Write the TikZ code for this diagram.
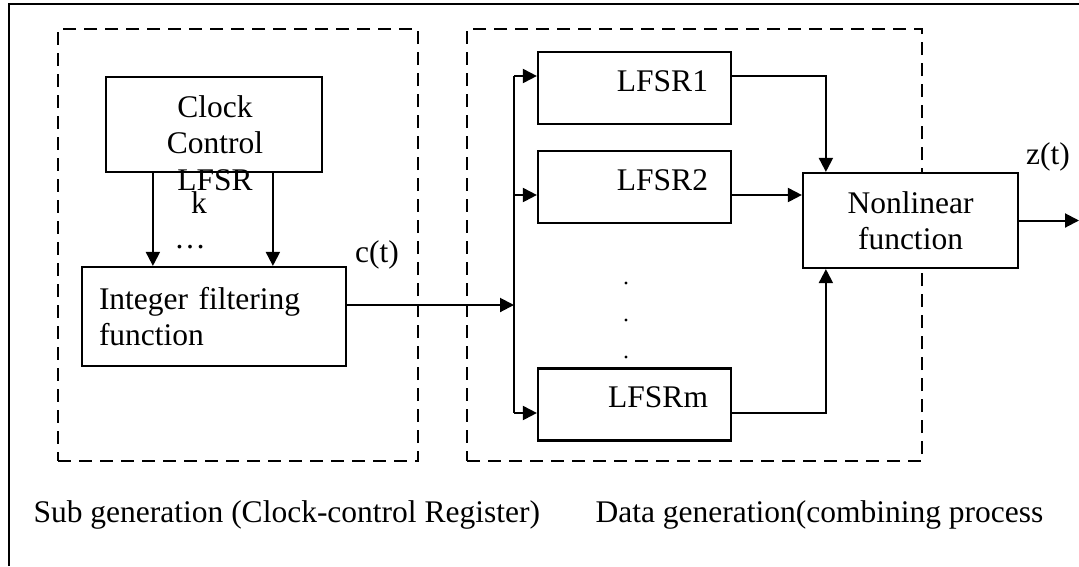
\documentclass[tikz,border=0pt]{standalone}
\usepackage{fontspec}
\setmainfont{Liberation Serif}
\usetikzlibrary{arrows.meta,positioning}

\begin{document}
\begin{tikzpicture}[x=1pt,y=-1pt,font=\fontsize{31.5}{36.5}\selectfont,>={Triangle[length=14pt,width=14pt]},
 box/.style={draw,line width=2.2pt,fill=white,inner sep=0pt},
 lfsr/.style={box,minimum width=193pt,minimum height=72pt,text width=147pt,align=right,text depth=14pt},
 group/.style={draw,line width=2pt,dash pattern=on 13pt off 8pt,minimum height=432pt},
 conn/.style={line width=2pt}]
\useasboundingbox (0,0) rectangle (1079,566);
% outer frame
\draw[line width=2.4pt] (9,566) -- (9,4) -- (1079,4);
% the two dashed groups
\node[group,minimum width=360pt] (subgen) at (238,245) {};
\node[group,minimum width=455pt] (datagen) at (694.5,245) {};
% sub generation
\node[box,minimum width=216pt,minimum height=95pt] (clk) at (214,124.5) {};
\node[align=center] (clktxt) at (215,143) {Clock\\Control\\LFSR};
\node (k) at (199,203) {k};
\node (kdots) at (190,247) {\ldots};
\node[box,minimum width=264pt,minimum height=99pt,text width=230pt,align=left] (int) at (214,316.5) {Integer filtering\\function};
\foreach \dx in {48,168}{\draw[conn,->] ([xshift=\dx pt]clk.south west) -- ([xshift=\dx pt]clk.south west |- int.north);}
\node (ct) at (377,255) {c(t)};
% data generation
\node[lfsr] (l1) at (634.5,88) {LFSR1};
\node[lfsr,below=25pt of l1] (l2) {LFSR2};
\node[lfsr,below=143pt of l2] (lm) {LFSRm};
\foreach \y in {283,320,357}{\fill (626,\y) circle (1.7pt);}
\node[box,minimum width=215pt,minimum height=95pt,align=center] (nl) at (910.5,220.5) {Nonlinear\\function};
\node (zt) at (1048,157) {z(t)};
\coordinate (b1) at (514,76);
\coordinate (b2) at (514,195);
\coordinate (bc) at (514,305);
\coordinate (bm) at (514,413);
\coordinate (zout) at (1079,220.5);
\draw[conn,->] (bc -| int.east) -- (bc);
\draw[conn] (b1) -- (bm);
\foreach \b/\l in {b1/l1,b2/l2,bm/lm}{\draw[conn,->] (\b) -- (\b -| \l.west);}
\draw[conn,->] (b1 -| l1.east) -| ([xshift=24pt]nl.north west);
\draw[conn,->] (b2 -| l2.east) -- (b2 -| nl.west);
\draw[conn,->] (bm -| lm.east) -| ([xshift=24pt]nl.south west);
\draw[conn,->] (nl.east) -- (zout);
% captions
\node[anchor=base west] (subcap) at (30,522) {Sub generation (Clock-control Register)};
\node[anchor=base west] (datacap) at (592,522) {Data generation(combining process};
\end{tikzpicture}
\end{document}
